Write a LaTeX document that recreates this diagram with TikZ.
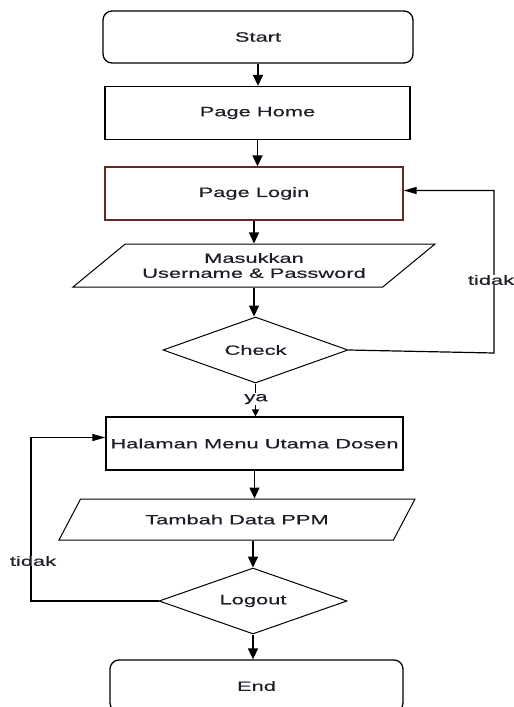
\documentclass[tikz,border=0pt]{standalone}
\usepackage{fontspec}
\setmainfont{Liberation Sans}[FakeStretch=1.62,FakeBold=0.5]
\usepackage{tikz}
\usetikzlibrary{positioning,arrows.meta,shapes.geometric}
\definecolor{loginred}{RGB}{100,40,40}
\definecolor{txtdark}{RGB}{30,30,40}

\begin{document}
\begin{tikzpicture}[
    x=1pt, y=-1pt,
    font=\fontsize{13.5}{15}\selectfont, text=txtdark,
    term/.style={rectangle, draw, rounded corners=9pt, line width=1.3pt, minimum height=52pt},
    proc/.style={rectangle, draw, line width=1.3pt, minimum height=53pt, align=center},
    io/.style={trapezium, draw, line width=1pt, trapezium stretches body, inner sep=0pt, align=center},
    decision/.style={diamond, draw, line width=1pt, inner sep=0pt, aspect=2.8, minimum height=66pt},
    lbl/.style={fill=white, inner sep=0.5pt},
    flow/.style={line width=1.6pt, -{Triangle[length=11pt,width=10pt]}},
    back/.style={line width=1.2pt, -{Triangle[length=13pt,width=7pt]}}
]
\useasboundingbox (0,0) rectangle (514,707);

% Login part
\node[term, minimum width=310pt] (start) at (258,37) {Start};
\node[proc, minimum width=305pt] (home) at (257.5,113) {Page Home};
\node[proc, minimum width=298pt, draw=loginred] (login) at (254,193.5) {Page Login};
\node[io, minimum width=362pt, minimum height=43pt, trapezium left angle=25.5, trapezium right angle=154.5]
      (input) at (254,265.5) {Masukkan\\Username \& Password};
\node[decision, minimum width=185pt] (check) at (255.5,350) {Check};

% Menu part
\node[proc, minimum width=297pt] (menu) at (254.5,443.5) {Halaman Menu Utama Dosen};
\node[io, minimum width=356pt, minimum height=41pt, trapezium left angle=24.7, trapezium right angle=155.3]
      (tambah) at (237,519.5) {Tambah Data PPM};
\node[decision, minimum width=188pt] (logout) at (253,601) {Logout};
\node[term, minimum width=293pt] (end) at (256.5,686) {End};

% Main flow
\draw[flow] (start.south) -- (start.south |- home.north);
\draw[flow] (home.south) -- (home.south |- login.north);
\draw[flow] (login.south) -- (login.south |- input.north);
\draw[flow] (input.south) -- (input.south |- check.north);
\draw[line width=1.6pt, -{Triangle[length=7pt,width=7pt]}] (check.south) -- (check.south |- menu.north);
\draw[flow] (menu.south) -- (menu.south |- tambah.north);
\draw[flow] (logout.north |- tambah.south) -- (logout.north);
\draw[flow] (logout.south) -- (logout.south |- end.north);

% Loops back
\coordinate (checkR) at (494,353);
\coordinate (logoutL) at (31,601);
\draw[back] (check.east) -- (checkR) |- ([yshift=3pt]login.east);
\draw[back] (logout.west) -- (logoutL) |- ([yshift=6pt]menu.west);

% Labels
\node[lbl] (tidakA) at (491,280) {tidak};
\node[lbl] (tidakB) at (33,561) {tidak};
\node[lbl] (ya) at (256,399) {ya};

\end{tikzpicture}
\end{document}
